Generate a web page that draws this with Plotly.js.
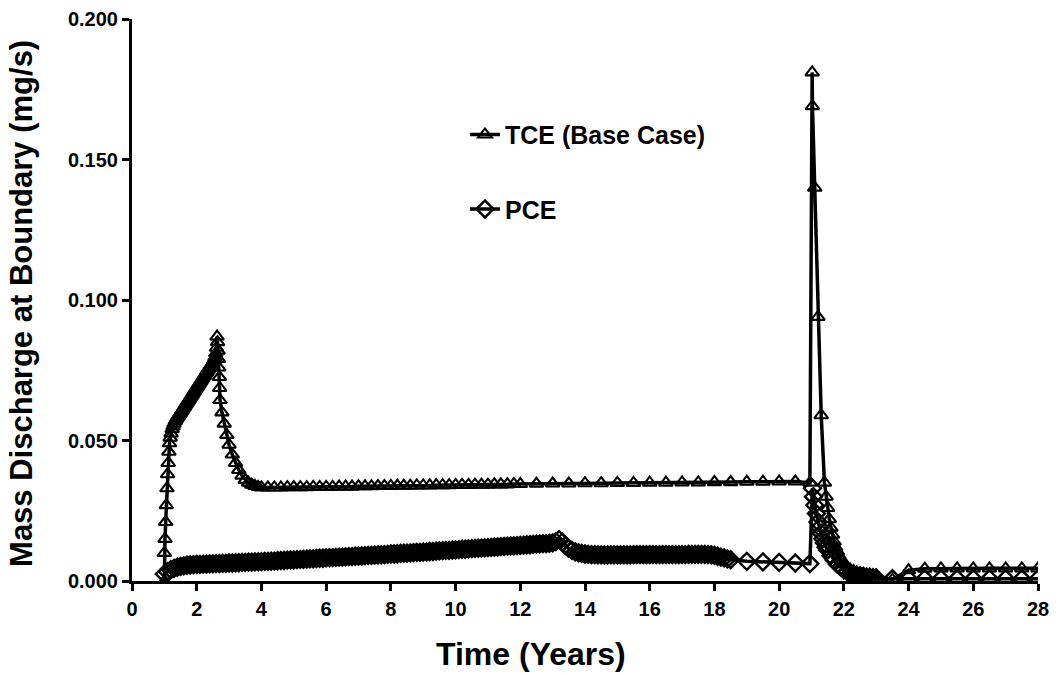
<!DOCTYPE html>
<html>
<head>
<meta charset="utf-8">
<script src="https://cdn.plot.ly/plotly-3.0.1.min.js"></script>
<style>html,body{margin:0;padding:0;background:#fff;}#chart{width:1057px;height:675px;}</style>
</head>
<body>
<div id="chart"></div>
<script>
// ---- TCE (Base Case) ----
const tceTime = [
  1.00, 1.00, 1.02, 1.04, 1.06, 1.08, 1.10, 1.12, 1.14, 1.16, 1.18, 1.21,
  1.24, 1.27, 1.30, 1.34, 1.38, 1.42,
  1.45, 1.48, 1.51, 1.54, 1.57, 1.60, 1.63, 1.66, 1.69, 1.72, 1.75, 1.78,
  1.81, 1.84, 1.87, 1.90, 1.93, 1.96, 1.99, 2.02, 2.05, 2.08, 2.11, 2.14,
  2.17, 2.20, 2.23, 2.26, 2.29, 2.32, 2.35, 2.38, 2.41, 2.44, 2.47, 2.50,
  2.53, 2.56, 2.59, 2.61, 2.63,
  2.645, 2.66, 2.67, 2.68, 2.70, 2.71, 2.72, 2.78, 2.85, 2.93, 3.00, 3.10,
  3.20, 3.30, 3.40, 3.50, 3.60, 3.70, 3.80, 3.90, 4.00,
  4.2, 4.4, 4.6, 4.8, 5.0, 5.2, 5.4, 5.6, 5.8, 6.0, 6.2, 6.4, 6.6, 6.8,
  7.0, 7.2, 7.4, 7.6, 7.8, 8.0, 8.2, 8.4, 8.6, 8.8, 9.0, 9.2, 9.4, 9.6,
  9.8, 10.0, 10.2, 10.4, 10.6, 10.8, 11.0, 11.2, 11.4, 11.6, 11.8, 12.0,
  12.5, 13.0, 13.5, 14.0, 14.5, 15.0, 15.5, 16.0, 16.5, 17.0, 17.5, 18.0,
  18.5, 19.0, 19.5, 20.0, 20.5, 20.95,
  21.02, 21.03, 21.10, 21.20, 21.30, 21.40,
  21.45, 21.50, 21.55, 21.60, 21.65, 21.70, 21.75, 21.80, 21.85, 21.90,
  21.95, 22.00, 22.10, 22.20, 22.30, 22.40, 22.50, 22.60, 22.70, 22.80,
  22.90, 23.00, 23.50, 24.00, 24.50, 25.00, 25.50, 26.00, 26.50, 27.00,
  27.50, 28.00
];
const tceMass = [
  0.0000, 0.0100, 0.0150, 0.0210, 0.0270, 0.0330, 0.0380, 0.0420, 0.0460, 0.0490, 0.0510, 0.0525,
  0.0540, 0.0550, 0.0560, 0.0570, 0.0578, 0.0585,
  0.0590, 0.0595, 0.0601, 0.0606, 0.0611, 0.0617, 0.0622, 0.0628, 0.0633, 0.0638, 0.0644, 0.0649,
  0.0655, 0.0660, 0.0665, 0.0671, 0.0676, 0.0682, 0.0687, 0.0692, 0.0698, 0.0703, 0.0709, 0.0714,
  0.0719, 0.0725, 0.0730, 0.0736, 0.0741, 0.0746, 0.0752, 0.0757, 0.0763, 0.0768, 0.0773, 0.0779,
  0.0786, 0.0795, 0.0810, 0.0830, 0.0870,
  0.0850, 0.0820, 0.0790, 0.0760, 0.0726, 0.0687, 0.0644, 0.0600, 0.0560, 0.0520, 0.0485, 0.0450,
  0.0420, 0.0395, 0.0375, 0.0360, 0.0350, 0.0343, 0.0338, 0.0335, 0.0333,
  0.0333, 0.0333, 0.0333, 0.0334, 0.0334, 0.0334, 0.0334, 0.0335, 0.0335, 0.0335, 0.0335, 0.0336, 0.0336, 0.0336,
  0.0337, 0.0337, 0.0337, 0.0338, 0.0338, 0.0338, 0.0339, 0.0339, 0.0339, 0.0340, 0.0340, 0.0340, 0.0341, 0.0341,
  0.0341, 0.0342, 0.0342, 0.0342, 0.0343, 0.0343, 0.0343, 0.0344, 0.0344, 0.0344, 0.0345, 0.0345,
  0.0346, 0.0347, 0.0347, 0.0348, 0.0348, 0.0349, 0.0349, 0.0350, 0.0350, 0.0351, 0.0351, 0.0352,
  0.0352, 0.0353, 0.0353, 0.0354, 0.0354, 0.0350,
  0.1810, 0.1690, 0.1400, 0.0940, 0.0590, 0.0350,
  0.0300, 0.0260, 0.0220, 0.0190, 0.0165, 0.0140, 0.0120, 0.0105, 0.0090, 0.0080,
  0.0070, 0.0060, 0.0050, 0.0040, 0.0035, 0.0030, 0.0028, 0.0025, 0.0023, 0.0022,
  0.0020, 0.0020, 0.0005, 0.0038, 0.0044, 0.0045, 0.0045, 0.0045, 0.0045, 0.0045,
  0.0045, 0.0045
];

// ---- PCE ----
const pceTime = [
  1.0, 1.1, 1.2, 1.3, 1.4, 1.5, 1.6, 1.7, 1.8, 1.9,
  2.0, 2.1, 2.2, 2.3, 2.4, 2.5, 2.6, 2.7, 2.8, 2.9,
  3.0, 3.1, 3.2, 3.3, 3.4, 3.5, 3.6, 3.7, 3.8, 3.9,
  4.0, 4.1, 4.2, 4.3, 4.4, 4.5, 4.6, 4.7, 4.8, 4.9,
  5.0, 5.1, 5.2, 5.3, 5.4, 5.5, 5.6, 5.7, 5.8, 5.9,
  6.0, 6.1, 6.2, 6.3, 6.4, 6.5, 6.6, 6.7, 6.8, 6.9,
  7.0, 7.1, 7.2, 7.3, 7.4, 7.5, 7.6, 7.7, 7.8, 7.9,
  8.0, 8.1, 8.2, 8.3, 8.4, 8.5, 8.6, 8.7, 8.8, 8.9,
  9.0, 9.1, 9.2, 9.3, 9.4, 9.5, 9.6, 9.7, 9.8, 9.9,
  10.0, 10.1, 10.2, 10.3, 10.4, 10.5, 10.6, 10.7, 10.8, 10.9,
  11.0, 11.1, 11.2, 11.3, 11.4, 11.5, 11.6, 11.7, 11.8, 11.9,
  12.0, 12.1, 12.2, 12.3, 12.4, 12.5, 12.6, 12.7, 12.8, 12.9,
  13.0, 13.1, 13.2, 13.3, 13.4, 13.5, 13.6, 13.7, 13.8, 13.9,
  14.0, 14.1, 14.2, 14.3, 14.4, 14.5, 14.6, 14.7, 14.8, 14.9,
  15.0, 15.1, 15.2, 15.3, 15.4, 15.5, 15.6, 15.7, 15.8, 15.9,
  16.0, 16.1, 16.2, 16.3, 16.4, 16.5, 16.6, 16.7, 16.8, 16.9,
  17.0, 17.1, 17.2, 17.3, 17.4, 17.5, 17.6, 17.7, 17.8, 17.9,
  18.0, 18.1, 18.2, 18.3, 18.4, 18.5,
  19.0, 19.5, 20.0, 20.5, 20.95,
  21.03, 21.06, 21.10, 21.15, 21.20, 21.25, 21.30, 21.35, 21.40, 21.45,
  21.50, 21.60, 21.70, 21.80, 21.90, 22.00, 22.10, 22.20, 22.30, 22.40,
  22.50, 22.60, 22.70, 22.80, 22.90, 23.00,
  23.5, 24.0, 24.5, 25.0, 25.5, 26.0, 26.5, 27.0, 27.5, 28.0
];
const pceMass = [
  0.0025, 0.0033, 0.0040, 0.0045, 0.0049, 0.0052, 0.0054, 0.0056, 0.0057, 0.0058,
  0.0059, 0.0059, 0.0060, 0.0060, 0.0061, 0.0061, 0.0062, 0.0062, 0.0063, 0.0063,
  0.0064, 0.0064, 0.0065, 0.0065, 0.0066, 0.0066, 0.0067, 0.0067, 0.0068, 0.0068,
  0.0069, 0.0070, 0.0070, 0.0071, 0.0071, 0.0072, 0.0073, 0.0073, 0.0074, 0.0075,
  0.0075, 0.0076, 0.0077, 0.0077, 0.0078, 0.0079, 0.0079, 0.0080, 0.0081, 0.0081,
  0.0082, 0.0083, 0.0083, 0.0084, 0.0085, 0.0085, 0.0086, 0.0087, 0.0087, 0.0088,
  0.0089, 0.0089, 0.0090, 0.0091, 0.0091, 0.0092, 0.0093, 0.0093, 0.0094, 0.0095,
  0.0096, 0.0096, 0.0097, 0.0098, 0.0099, 0.0099, 0.0100, 0.0101, 0.0102, 0.0102,
  0.0103, 0.0104, 0.0105, 0.0105, 0.0106, 0.0107, 0.0108, 0.0109, 0.0109, 0.0110,
  0.0111, 0.0112, 0.0113, 0.0113, 0.0114, 0.0115, 0.0116, 0.0117, 0.0117, 0.0118,
  0.0119, 0.0120, 0.0121, 0.0121, 0.0122, 0.0123, 0.0124, 0.0125, 0.0125, 0.0126,
  0.0127, 0.0128, 0.0129, 0.0129, 0.0130, 0.0131, 0.0132, 0.0133, 0.0133, 0.0134,
  0.0136, 0.0140, 0.0147, 0.0138, 0.0126, 0.0116, 0.0109, 0.0104, 0.0100, 0.0098,
  0.0096, 0.0095, 0.0094, 0.0094, 0.0093, 0.0093, 0.0093, 0.0093, 0.0093, 0.0093,
  0.0093, 0.0093, 0.0093, 0.0093, 0.0093, 0.0094, 0.0094, 0.0094, 0.0094, 0.0094,
  0.0094, 0.0094, 0.0094, 0.0094, 0.0094, 0.0094, 0.0094, 0.0094, 0.0094, 0.0094,
  0.0094, 0.0094, 0.0095, 0.0095, 0.0095, 0.0095, 0.0095, 0.0095, 0.0094, 0.0093,
  0.0091, 0.0088, 0.0085, 0.0082, 0.0079, 0.0076,
  0.0070, 0.0068, 0.0066, 0.0064, 0.0062,
  0.0330, 0.0300, 0.0270, 0.0240, 0.0210, 0.0190, 0.0170, 0.0150, 0.0135, 0.0120,
  0.0110, 0.0090, 0.0075, 0.0060, 0.0050, 0.0040, 0.0034, 0.0028, 0.0024, 0.0020,
  0.0018, 0.0016, 0.0014, 0.0013, 0.0012, 0.0011,
  0.0008, 0.0008, 0.0008, 0.0008, 0.0008, 0.0008, 0.0008, 0.0008, 0.0008, 0.0008
];

const xTickVals = [0, 2, 4, 6, 8, 10, 12, 14, 16, 18, 20, 22, 24, 26, 28];
const yTickVals = [0, 0.05, 0.1, 0.15, 0.2];
const seriesNames = ["TCE (Base Case)", "PCE"];
const xTitle = "Time (Years)";
const yTitle = "Mass Discharge at Boundary (mg/s)";

const FONT = "Liberation Sans, Arial, Helvetica, sans-serif";

const traces = [
  {
    x: tceTime, y: tceMass, name: seriesNames[0], legendgroup: "a",
    type: "scatter", mode: "lines+markers",
    line: {color: "#000", width: 3.5},
    marker: {symbol: "triangle-up-open", size: 12, color: "#000", line: {width: 2.1, color: "#000"}}
  },
  {
    x: pceTime, y: pceMass, name: seriesNames[1], legendgroup: "b",
    type: "scatter", mode: "lines+markers",
    line: {color: "#000", width: 3.5},
    marker: {symbol: "diamond-open", size: 13, color: "#000", line: {width: 2.4, color: "#000"}}
  }
];

const layout = {
  width: 1057, height: 675,
  margin: {l: 132, r: 19, t: 19, b: 94},
  paper_bgcolor: "#fff", plot_bgcolor: "#fff",
  font: {family: FONT, color: "#000", size: 20, weight: "bold"},
  showlegend: true,
  legend: {
    x: 0.3675, y: 0.835, xanchor: "left", yanchor: "top",
    bgcolor: "rgba(0,0,0,0)", borderwidth: 0,
    font: {family: FONT, size: 25, color: "#000", weight: "bold"},
    tracegroupgap: 39, traceorder: "grouped"
  },
  xaxis: {
    range: [0, 28], tickvals: xTickVals, ticktext: xTickVals.map(String),
    showgrid: false, zeroline: false,
    showline: true, linewidth: 3, linecolor: "#000",
    ticks: "outside", ticklen: 7, tickwidth: 3, tickcolor: "#000",
    tickfont: {family: FONT, size: 20, color: "#000", weight: "bold"},
    ticklabelstandoff: 1,
    automargin: false
  },
  yaxis: {
    range: [0, 0.2], tickvals: yTickVals, ticktext: yTickVals.map(v => v.toFixed(3)),
    showgrid: false, zeroline: false,
    showline: true, linewidth: 3, linecolor: "#000",
    ticks: "outside", ticklen: 7, tickwidth: 3, tickcolor: "#000",
    tickfont: {family: FONT, size: 20, color: "#000", weight: "bold"},
    ticklabelstandoff: 0,
    automargin: false
  },
  annotations: [
    {text: xTitle, xref: "paper", yref: "paper", x: 0.44, y: -0.13,
     xanchor: "center", yanchor: "middle", showarrow: false,
     font: {family: FONT, size: 32, color: "#000", weight: "bold"}},
    {text: yTitle, xref: "paper", yref: "paper", x: -0.1214, y: 0.493,
     xanchor: "center", yanchor: "middle", showarrow: false, textangle: -90,
     font: {family: FONT, size: 31, color: "#000", weight: "bold"}}
  ]
};

Plotly.newPlot("chart", traces, layout, {displayModeBar: false, staticPlot: true});
</script>
</body>
</html>
